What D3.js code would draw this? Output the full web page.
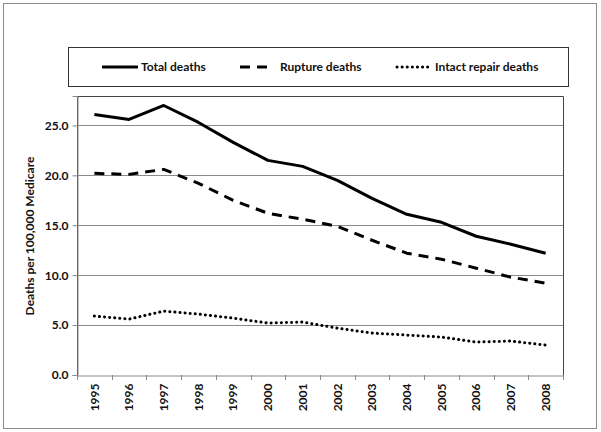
<!DOCTYPE html>
<html><head><meta charset="utf-8">
<script src="https://cdn.jsdelivr.net/npm/d3@7"></script>
<style>body{margin:0;background:#fff}svg{display:block;font-family:Lato,"Open Sans",sans-serif}</style>
</head><body><svg id="c" width="601" height="432"></svg>
<script>
const years = ["1995","1996","1997","1998","1999","2000","2001","2002","2003","2004","2005","2006","2007","2008"];
const totalDeaths = [26.1,25.6,27.0,25.3,23.3,21.5,20.9,19.5,17.7,16.1,15.3,13.9,13.1,12.2];
const ruptureDeaths = [20.2,20.1,20.6,19.2,17.5,16.2,15.6,14.9,13.5,12.2,11.6,10.7,9.8,9.2];
const intactDeaths = [5.9,5.6,6.4,6.1,5.7,5.2,5.3,4.7,4.2,4.0,3.8,3.3,3.4,3.0];
const yTicks = [0,5,10,15,20,25];
const seriesNames = ["Total deaths","Rupture deaths","Intact repair deaths"];

const svg = d3.select("#c");
svg.append("rect").attr("x",3.5).attr("y",3.5).attr("width",593).attr("height",425)
  .attr("fill","#fff").attr("stroke","#8c8c8c");

const L=77, R=563, T=96, B=375;
const x = d3.scaleBand().domain(years).range([L,R]).padding(0);
const y = d3.scaleLinear().domain([0,27.95]).range([B,T]);

// gridlines
svg.append("g").selectAll("line").data(yTicks.filter(d=>d>0)).join("line")
  .attr("x1",L).attr("x2",R).attr("y1",d=>Math.round(y(d))+0.5).attr("y2",d=>Math.round(y(d))+0.5)
  .attr("stroke","#8a8a8a").attr("stroke-width",1);

// plot box
svg.append("path").attr("d",`M${L+0.5},${B}V${T+0.5}H${R+0.5}V${B}`).attr("fill","none").attr("stroke","#444");

// y axis
const ya = svg.append("g").attr("transform",`translate(${L+0.5},0)`)
  .call(d3.axisLeft(y).tickValues(yTicks).tickFormat(d3.format(".1f")).tickSize(5).tickPadding(4));
ya.select(".domain").attr("stroke","#8a8a8a");
ya.selectAll(".tick line").attr("stroke","#8a8a8a");
ya.selectAll("text").attr("font-size",12).attr("font-weight","bold").attr("fill","#111").attr("font-family","Lato,sans-serif");

// x axis
const xa = svg.append("g").attr("transform",`translate(0,${Math.round(B)+0.5})`)
  .call(d3.axisBottom(x).tickSize(0).tickFormat(d=>d));
xa.select(".domain").attr("stroke","#8a8a8a");
xa.selectAll(".tick text").attr("transform","rotate(-90)").attr("text-anchor","end")
  .attr("x",-8).attr("y",0).attr("dy","0.35em")
  .attr("font-size",12).attr("font-weight","bold").attr("fill","#111").attr("font-family","Lato,sans-serif");
const edges = years.map(d=>x(d)).concat([x(years[years.length-1])+x.bandwidth()]);
svg.append("g").selectAll("line").data(edges).join("line")
  .attr("x1",d=>Math.round(d)+0.5).attr("x2",d=>Math.round(d)+0.5)
  .attr("y1",B).attr("y2",B+5).attr("stroke","#8a8a8a");

// y title
svg.append("text").attr("transform",`translate(34,236) rotate(-90)`).attr("text-anchor","middle")
  .attr("font-size",12).attr("font-weight","bold").attr("fill","#111")
  .text("Deaths per 100,000 Medicare");

const line = d3.line().x((d,i)=>x(years[i])+x.bandwidth()/2).y(d=>y(d));
const styles = [
  {data: totalDeaths, dash:null, cap:"butt", w:3},
  {data: ruptureDeaths, dash:"10,7", cap:"butt", w:3},
  {data: intactDeaths, dash:"0.1,5", cap:"round", w:3}
];
styles.forEach(s=>{
  svg.append("path").datum(s.data).attr("d",line).attr("fill","none").attr("stroke","#000")
    .attr("stroke-width",s.w).attr("stroke-dasharray",s.dash).attr("stroke-linecap",s.cap)
    .attr("stroke-linejoin","round");
});

// legend
svg.append("rect").attr("x",68.5).attr("y",47.5).attr("width",500).attr("height",39)
  .attr("fill","#fff").attr("stroke","#333");
const legItems = [
  {x1:102,x2:138,tx:141},
  {x1:240,x2:273,tx:280},
  {x1:397,x2:430,tx:435}
];
legItems.forEach((it,i)=>{
  const s = styles[i];
  svg.append("line").attr("x1",it.x1).attr("x2",it.x2).attr("y1",67).attr("y2",67)
    .attr("stroke","#000").attr("stroke-width",s.w).attr("stroke-dasharray",i==1?"10,7":s.dash).attr("stroke-linecap",s.cap);
  svg.append("text").attr("x",it.tx).attr("y",67).attr("dy","0.35em")
    .attr("font-size",12).attr("font-weight","bold").attr("fill","#111").text(seriesNames[i]);
});
</script></body></html>
